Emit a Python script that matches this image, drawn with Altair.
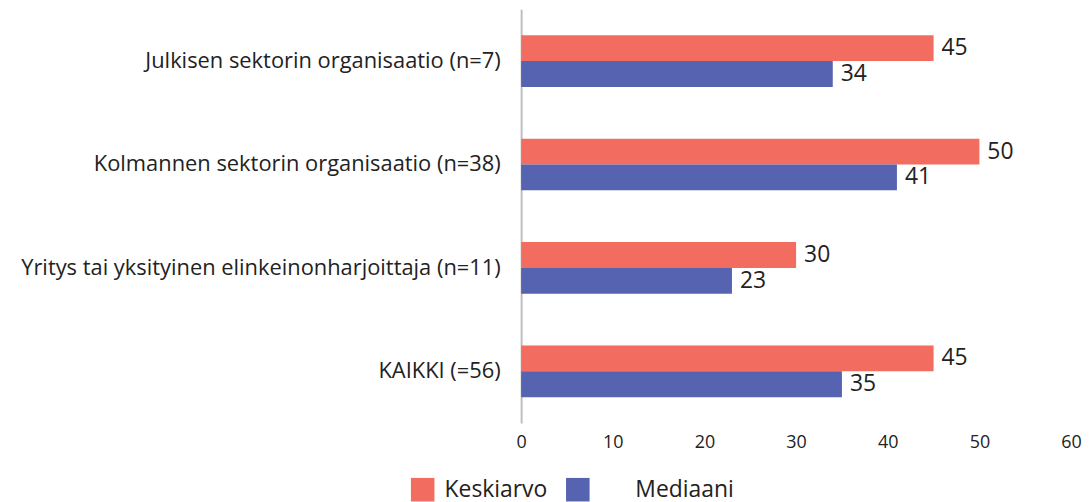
import altair as alt
import pandas as pd

categories = [
    "Julkisen sektorin organisaatio (n=7)",
    "Kolmannen sektorin organisaatio (n=38)",
    "Yritys tai yksityinen elinkeinonharjoittaja (n=11)",
    "KAIKKI (=56)",
]
keskiarvo = [45, 50, 30, 45]
mediaani = [34, 41, 23, 35]
series = ["Keskiarvo", "Mediaani"]
colors = ["#F26D5F", "#5563B0"]
x_ticks = [0, 10, 20, 30, 40, 50, 60]

rows = []
for c, k, m in zip(categories, keskiarvo, mediaani):
    rows.append({"cat": c, "series": series[0], "value": k})
    rows.append({"cat": c, "series": series[1], "value": m})
df = pd.DataFrame(rows)

FONT = "Open Sans"

y_enc = alt.Y("cat:N", sort=categories, title=None,
              scale=alt.Scale(paddingInner=0.5, paddingOuter=0.25),
              axis=alt.Axis(ticks=False, labelPadding=21, labelFontSize=22,
                            labelColor="#222222", labelFont=FONT, labelLimit=700,
                            domainColor="#bfbfbf", domainWidth=2))
yoff = alt.YOffset("series:N", sort=series, scale=alt.Scale(paddingInner=0, paddingOuter=0))
x_enc = alt.X("value:Q", title=None,
              scale=alt.Scale(domain=[0, 60], nice=False),
              axis=alt.Axis(values=x_ticks, grid=False, domain=False, ticks=False,
                            labelFlush=False, labelBound=False,
                            labelPadding=11, labelFontSize=18, labelColor="#222222",
                            labelFont=FONT))

gap = "\u200b" + "\u00a0" * 6
bars = alt.Chart(df).mark_bar().encode(
    y=y_enc, yOffset=yoff, x=x_enc,
    color=alt.Color("series:N", sort=series, title=None,
                    scale=alt.Scale(domain=series, range=colors),
                    legend=alt.Legend(orient="none", legendX=-111, legendY=471,
                                      direction="horizontal", symbolType="square",
                                      symbolSize=560, symbolStrokeWidth=0,
                                      labelFontSize=23, labelFont=FONT,
                                      labelColor="#222222", columnPadding=18,
                                      labelOffset=10,
                                      labelExpr="datum.label == 'Mediaani' ? '" + gap + "' + datum.label : datum.label")),
)

labels = alt.Chart(df).mark_text(align="left", baseline="middle", dx=8,
                                 fontSize=23, font=FONT, color="#222222").encode(
    y=alt.Y("cat:N", sort=categories), yOffset=yoff,
    x=alt.X("value:Q"), text=alt.Text("value:Q"),
)

chart = (bars + labels).properties(
    width=553, height=416,
    autosize=alt.AutoSizeParams(type="none"),
    padding={"left": 516, "top": 0, "right": 12, "bottom": 80},
).configure_view(stroke=None)

chart.save("out.html", embed_options={"renderer": "svg", "actions": False})
